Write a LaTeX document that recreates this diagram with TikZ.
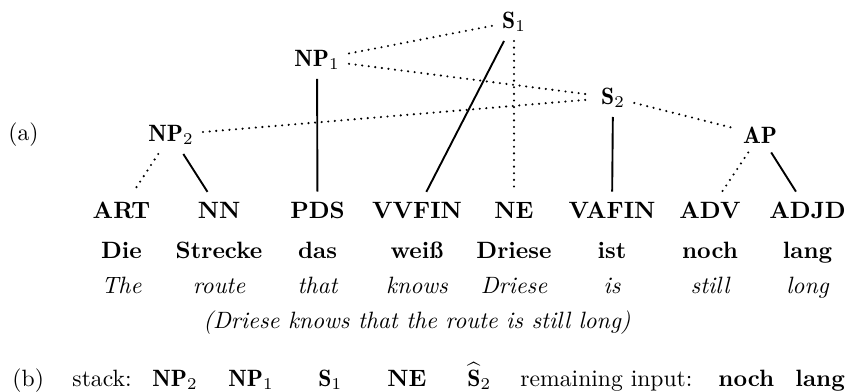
\documentclass[tikz,border=0pt]{standalone}
\usepackage{fontspec}
\begin{document}
\begin{tikzpicture}[x=0.4235pt,y=-0.4235pt,
  tn/.style={anchor=base,inner sep=3.8pt},
  postag/.style={anchor=base,inner sep=4pt,font=\bfseries},
  word/.style={anchor=base,inner sep=2pt,font=\bfseries},
  gloss/.style={anchor=base,inner sep=2pt,font=\itshape},
  lbl/.style={anchor=base west,inner sep=0pt},
  solid edge/.style={line width=0.8pt},
  dot edge/.style={line width=1pt,line cap=round,dash pattern=on 0pt off 2.8pt}]
\useasboundingbox (0,0) rectangle (850,391);
% labels
\node[lbl] (la) at (8,140) {(a)};
% tree nodes
\node[tn] (S1) at (514,28) {$\mathbf{S}_1$};
\node[tn] (NP1) at (317,66) {$\mathbf{NP}_1$};
\node[tn] (S2) at (613,104) {$\mathbf{S}_2$};
\node[tn] (NP2) at (171,141) {$\mathbf{NP}_2$};
\node[tn] (AP) at (760,143) {$\mathbf{AP}$};
% POS tags
\node[postag] (ART) at (121.5,218) {ART};
\node[postag] (NN) at (219,218) {NN};
\node[postag] (PDS) at (317.5,218) {PDS};
\node[postag] (VVFIN) at (417,218) {VVFIN};
\node[postag] (NE) at (514,218) {NE};
\node[postag] (VAFIN) at (612,218) {VAFIN};
\node[postag] (ADV) at (710,218) {ADV};
\node[postag] (ADJD) at (807.5,218) {ADJD};
% words
\node[word] (w1) at (121.5,258) {Die};
\node[word] (w2) at (219,258) {Strecke};
\node[word] (w3) at (317.5,258) {das};
\node[word] (w4) at (417,258) {weiß};
\node[word] (w5) at (514,258) {Driese};
\node[word] (w6) at (612,258) {ist};
\node[word] (w7) at (710,258) {noch};
\node[word] (w8) at (807.5,258) {lang};
% glosses
\node[gloss] (g1) at (121.5,293) {The};
\node[gloss] (g2) at (219,293) {route};
\node[gloss] (g3) at (317.5,293) {that};
\node[gloss] (g4) at (417,293) {knows};
\node[gloss] (g5) at (514,293) {Driese};
\node[gloss] (g6) at (612,293) {is};
\node[gloss] (g7) at (710,293) {still};
\node[gloss] (g8) at (807.5,293) {long};
\node[gloss] (tr) at (417,328) {(Driese knows that the route is still long)};
% edges
\draw[solid edge] (NP1) -- (PDS);
\draw[solid edge] (S1) -- (VVFIN);
\draw[solid edge] (S2) -- (VAFIN);
\draw[solid edge] (NP2) -- (NN);
\draw[solid edge] (AP) -- (ADJD);
\draw[dot edge] (NP1) -- (S1);
\draw[dot edge] (NP1) -- (S2);
\draw[dot edge] (NP2) -- (S2);
\draw[dot edge] (S2) -- (AP);
\draw[dot edge] (S1) -- (NE);
\draw[dot edge] (NP2) -- (ART);
\draw[dot edge] (AP) -- (ADV);
% (b) row
\node[lbl] (lb) at (12,386) {(b)};
\node[lbl] (st) at (72,386) {stack:};
\node[lbl] (b1) at (152,386) {$\mathbf{NP}_2$};
\node[lbl] (b2) at (228,386) {$\mathbf{NP}_1$};
\node[lbl] (b3) at (318,386) {$\mathbf{S}_1$};
\node[lbl] (b4) at (387,386) {\bfseries NE};
\node[lbl] (b5) at (467,386) {$\widehat{\mathbf{S}}_2$};
\node[lbl] (ri) at (520,386) {remaining input:};
\node[lbl] (b6) at (718,386) {\bfseries noch};
\node[lbl] (b7) at (795,386) {\bfseries lang};
\end{tikzpicture}
\end{document}
